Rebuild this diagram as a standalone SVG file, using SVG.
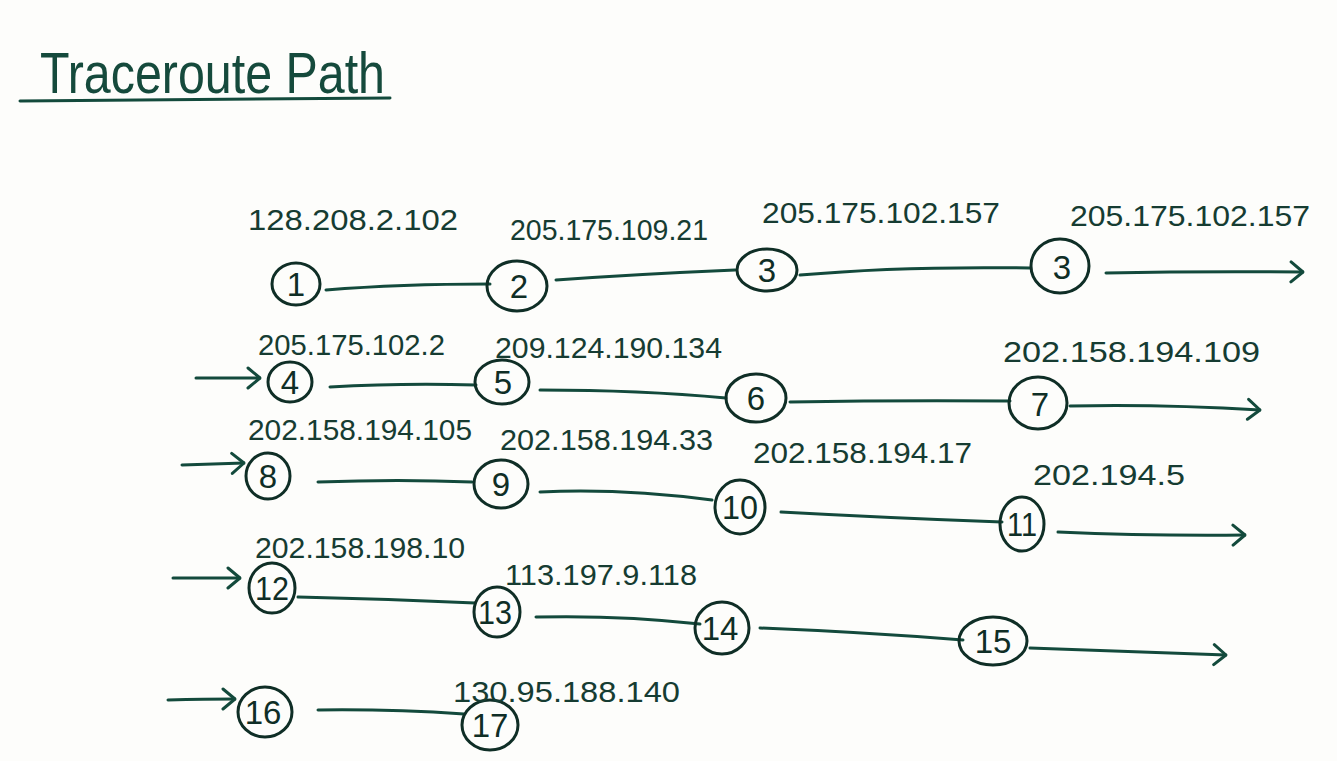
<svg xmlns="http://www.w3.org/2000/svg" width="1337" height="761" viewBox="0 0 1337 761">
<style>
.bg{fill:#fdfdfb}
.ln{fill:none;stroke:#134a3c;stroke-width:3;stroke-linecap:round;stroke-linejoin:round}
.nd{fill:none;stroke:#0f2e26;stroke-width:3}
.num{font-family:"Liberation Sans",sans-serif;font-size:33px;fill:#0f2e26;text-anchor:middle}
.ip{font-family:"Liberation Sans",sans-serif;font-size:29px;fill:#163c32}
.title{font-family:"Liberation Sans",sans-serif;font-size:58px;fill:#154a3c}
</style>
<defs>
<marker id="ah" viewBox="0 0 16 24" refX="15" refY="12" markerWidth="16" markerHeight="24" markerUnits="userSpaceOnUse" orient="auto">
<path d="M3,2 L15,12 L3,22" fill="none" stroke="#134a3c" stroke-width="3" stroke-linecap="round" stroke-linejoin="round"/>
</marker>
</defs>
<rect class="bg" x="0" y="0" width="1337" height="761"/>
<g id="title">
<text class="title" x="40" y="93" textLength="345" lengthAdjust="spacingAndGlyphs">Traceroute Path</text>
<path class="ln" d="M20,101 Q200,99 390,98"/>
</g>
<g id="connectors">
<path class="ln" d="M326,290 Q400,284 490,284"/>
<path class="ln" d="M556,280 Q640,274 735,270"/>
<path class="ln" d="M800,275 Q900,266 1030,268"/>
<path class="ln" d="M1106,273 Q1200,271 1303,272" marker-end="url(#ah)"/>
<path class="ln" d="M196,378 L260,378" marker-end="url(#ah)"/>
<path class="ln" d="M330,387 Q400,383 476,385"/>
<path class="ln" d="M540,390 Q640,390 726,398"/>
<path class="ln" d="M790,402 Q900,400 1010,401"/>
<path class="ln" d="M1070,406 Q1160,404 1260,410" marker-end="url(#ah)"/>
<path class="ln" d="M182,465 L244,463" marker-end="url(#ah)"/>
<path class="ln" d="M318,482 Q400,479 472,482"/>
<path class="ln" d="M540,492 Q620,488 712,500"/>
<path class="ln" d="M781,512 Q890,518 1002,522"/>
<path class="ln" d="M1058,532 Q1150,536 1245,535" marker-end="url(#ah)"/>
<path class="ln" d="M173,578 L240,578" marker-end="url(#ah)"/>
<path class="ln" d="M298,597 Q390,599 475,603"/>
<path class="ln" d="M536,617 Q620,615 700,624"/>
<path class="ln" d="M760,628 Q860,632 963,640"/>
<path class="ln" d="M1030,648 Q1130,652 1226,655" marker-end="url(#ah)"/>
<path class="ln" d="M168,700 Q205,699 235,699" marker-end="url(#ah)"/>
<path class="ln" d="M318,710 Q390,709 464,714"/>
</g>
<g id="n1"><ellipse class="nd" cx="296" cy="284" rx="24" ry="21"/><text class="num" x="296" y="296">1</text>
<text class="ip" x="248" y="230" textLength="210" lengthAdjust="spacingAndGlyphs">128.208.2.102</text></g>
<g id="n2"><ellipse class="nd" cx="517" cy="286" rx="30" ry="25"/><text class="num" x="519" y="298">2</text>
<text class="ip" x="510" y="240" textLength="198" lengthAdjust="spacingAndGlyphs">205.175.109.21</text></g>
<g id="n3a"><ellipse class="nd" cx="767" cy="270" rx="30" ry="21"/><text class="num" x="767" y="282">3</text>
<text class="ip" x="762" y="223" textLength="238" lengthAdjust="spacingAndGlyphs">205.175.102.157</text></g>
<g id="n3b"><ellipse class="nd" cx="1060" cy="266" rx="29" ry="27"/><text class="num" x="1062" y="279">3</text>
<text class="ip" x="1070" y="226" textLength="240" lengthAdjust="spacingAndGlyphs">205.175.102.157</text></g>
<g id="n4"><ellipse class="nd" cx="290" cy="382" rx="22" ry="20"/><text class="num" x="290" y="394">4</text>
<text class="ip" x="258" y="355" textLength="187" lengthAdjust="spacingAndGlyphs">205.175.102.2</text></g>
<g id="n5"><ellipse class="nd" cx="502" cy="382" rx="27" ry="22"/><text class="num" x="503" y="394">5</text>
<text class="ip" x="495" y="358" textLength="227" lengthAdjust="spacingAndGlyphs">209.124.190.134</text></g>
<g id="n6"><ellipse class="nd" cx="756" cy="398" rx="30" ry="24"/><text class="num" x="756" y="410">6</text></g>
<g id="n7"><ellipse class="nd" cx="1038" cy="403" rx="29" ry="26"/><text class="num" x="1040" y="416">7</text>
<text class="ip" x="1003" y="362" textLength="257" lengthAdjust="spacingAndGlyphs">202.158.194.109</text></g>
<g id="n8"><ellipse class="nd" cx="268" cy="476" rx="22" ry="23"/><text class="num" x="268" y="488">8</text>
<text class="ip" x="248" y="440" textLength="224" lengthAdjust="spacingAndGlyphs">202.158.194.105</text></g>
<g id="n9"><ellipse class="nd" cx="501" cy="484" rx="27" ry="24"/><text class="num" x="501" y="496">9</text>
<text class="ip" x="500" y="450" textLength="213" lengthAdjust="spacingAndGlyphs">202.158.194.33</text></g>
<g id="n10"><ellipse class="nd" cx="740" cy="507" rx="25" ry="27"/><text class="num" x="740" y="519" textLength="36" lengthAdjust="spacingAndGlyphs">10</text>
<text class="ip" x="753" y="463" textLength="219" lengthAdjust="spacingAndGlyphs">202.158.194.17</text></g>
<g id="n11"><ellipse class="nd" cx="1022" cy="524" rx="22" ry="27"/><text class="num" x="1022" y="536" textLength="30" lengthAdjust="spacingAndGlyphs">11</text>
<text class="ip" x="1033" y="485" textLength="152" lengthAdjust="spacingAndGlyphs">202.194.5</text></g>
<g id="n12"><ellipse class="nd" cx="272" cy="588" rx="23" ry="25"/><text class="num" x="272" y="600" textLength="34" lengthAdjust="spacingAndGlyphs">12</text>
<text class="ip" x="255" y="558" textLength="210" lengthAdjust="spacingAndGlyphs">202.158.198.10</text></g>
<g id="n13"><ellipse class="nd" cx="497" cy="612" rx="23" ry="25"/><text class="num" x="495" y="624" textLength="34" lengthAdjust="spacingAndGlyphs">13</text>
<text class="ip" x="505" y="585" textLength="192" lengthAdjust="spacingAndGlyphs">113.197.9.118</text></g>
<g id="n14"><ellipse class="nd" cx="722" cy="628" rx="27" ry="26"/><text class="num" x="720" y="640">14</text></g>
<g id="n15"><ellipse class="nd" cx="993" cy="641" rx="34" ry="24"/><text class="num" x="993" y="653">15</text></g>
<g id="n16"><ellipse class="nd" cx="265" cy="712" rx="27" ry="25"/><text class="num" x="263" y="724">16</text></g>
<g id="n17"><ellipse class="nd" cx="490" cy="725" rx="28" ry="25"/><text class="num" x="490" y="737">17</text>
<text class="ip" x="453" y="702" textLength="227" lengthAdjust="spacingAndGlyphs">130.95.188.140</text></g>
</svg>
